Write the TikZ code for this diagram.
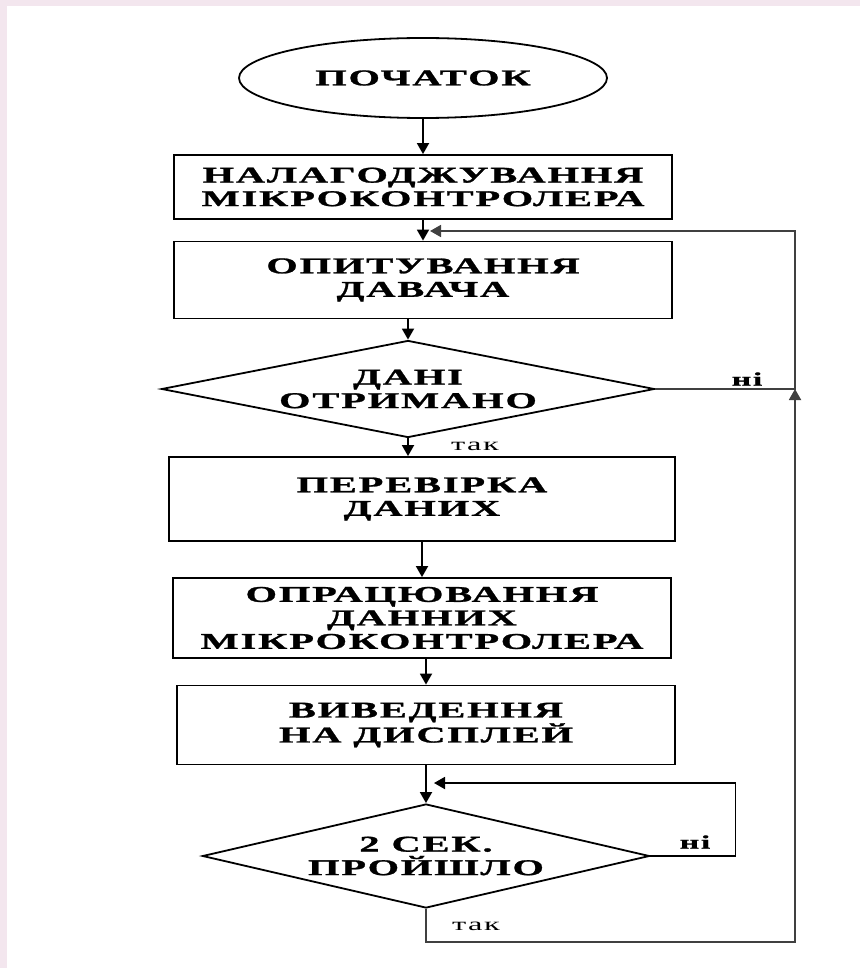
\documentclass[tikz,border=0pt]{standalone}
\usepackage{fontspec}
\usetikzlibrary{shapes.geometric,arrows.meta}
\newfontfamily\flowfont{Liberation Serif}[FakeStretch=1.8,LetterSpace=8,BoldFeatures={FakeBold=1.2}]
\definecolor{framepink}{HTML}{F3E6EE}

\begin{document}
\begin{tikzpicture}[x=1pt,y=-1pt,
  every node/.style={inner sep=0pt},
  block/.style={draw,line width=1.8pt,align=center,
    font=\flowfont\bfseries\fontsize{22.5}{23.5}\selectfont},
  cond/.style={block,diamond},
  yeslbl/.style={font=\flowfont\fontsize{18}{18}\selectfont},
  nolbl/.style={font=\flowfont\bfseries\fontsize{19}{19}\selectfont},
  >={Triangle[length=11pt,width=12pt]},
  link/.style={->,line width=1.8pt}]
  \useasboundingbox (0,0) rectangle (860,968);
  \fill[framepink] (0,0) rectangle (860,968);
  \fill[white] (7,6) rectangle (860,968);

  \node[block,ellipse,minimum width=368,minimum height=80] (start) at (423,78) {ПОЧАТОК};
  \node[block,minimum width=498,minimum height=64] (setup) at (423,187) {НАЛАГОДЖУВАННЯ\\МІКРОКОНТРОЛЕРА};
  \node[block,minimum width=498,minimum height=77] (poll) at (423,280) {ОПИТУВАННЯ\\ДАВАЧА};
  \node[cond,shape aspect=5,minimum width=493,minimum height=97] (got) at (408,389) {ДАНІ\\ОТРИМАНО};
  \node[block,minimum width=506,minimum height=84] (check) at (422,499) {ПЕРЕВІРКА\\ДАНИХ};
  \node[block,minimum width=498,minimum height=80] (proc) at (422,618) {ОПРАЦЮВАННЯ\\ДАННИХ\\МІКРОКОНТРОЛЕРА};
  \node[block,minimum width=498,minimum height=79] (show) at (426,725) {ВИВЕДЕННЯ\\НА ДИСПЛЕЙ};
  \node[cond,shape aspect=4.3,minimum width=447,minimum height=104] (wait) at (426,856) {2 СЕК.\\ПРОЙШЛО};

  \node[nolbl] (no1) at (747,379) {ні};
  \node[yeslbl] (yes1) at (475,446) {так};
  \node[nolbl] (no2) at (695,842) {ні};
  \node[yeslbl] (yes2) at (476,926) {так};

  \coordinate (rail) at (795,389);
  \coordinate (back1) at (430,231);
  \coordinate (back2) at (434,783);

  \draw[link] (start) -- (setup);
  \draw[link] (setup) -- (poll);
  \draw[link] (got.north |- poll.south) -- (got);
  \draw[link] (got) -- (got.south |- check.north);
  \draw[link] (check) -- (proc);
  \draw[link] (show.north |- proc.south) -- (show);
  \draw[link] (wait.north |- show.south) -- (wait);
  \draw[link,black!75] (got.east) -- (rail) |- (back1);
  \draw[link] (wait.east) -- ++(85,0) |- (back2);
  \draw[link,black!75] (wait.south) -- ++(0,33) -| (rail);
\end{tikzpicture}
\end{document}
